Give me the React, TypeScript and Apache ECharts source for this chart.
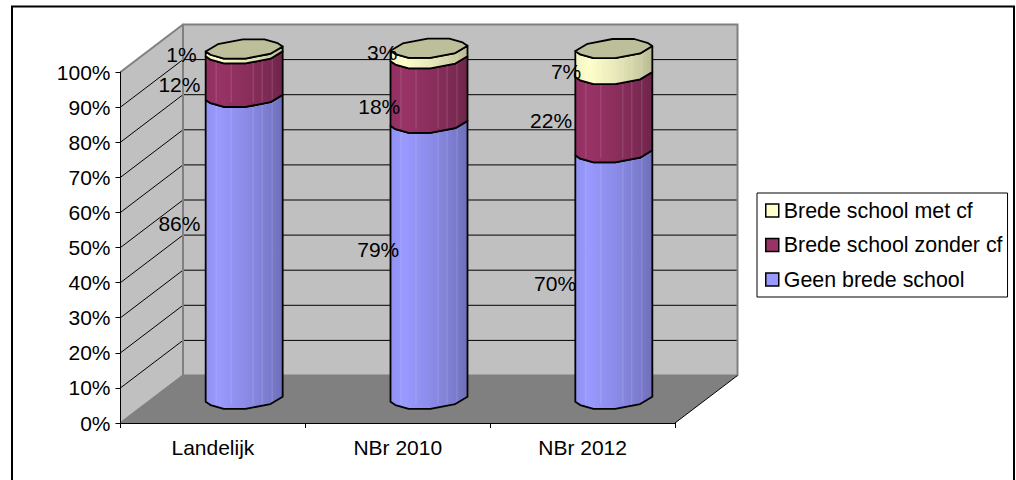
import React, { useEffect, useRef } from "react";
import * as echarts from "echarts";

const categories = ["Landelijk", "NBr 2010", "NBr 2012"];
const geen = [86.0, 78.6, 70.2];
const zonder = [12.4, 18.4, 22.3];
const met = [1.4, 3.0, 7.4];
const yTicks = [0, 10, 20, 30, 40, 50, 60, 70, 80, 90, 100];
const seriesNames = ["Geen brede school", "Brede school zonder cf", "Brede school met cf"];
const seriesValues = [geen, zonder, met];

// layout and style
const DEPTH_X = 62.5;
const DEPTH_Y = -47.5;
const FONT = "'Liberation Sans', Arial, sans-serif";
const FONT_SIZE = 21;
const COLORS = ["#9999FF", "#993366", "#FFFFCC"];
const CAP = "#BDBE9A";
const LOWER: number[][] = [[-38.5, 2.5], [-33.6, 5.8], [-20.3, 9.6], [1.3, 9.6], [26.3, 4.8], [38.5, -2.5]];
const UPPER: number[][] = [[38.5, -2.5], [33.6, -5.8], [20.3, -9.6], [-1.3, -9.6], [-26.3, -4.8], [-38.5, 2.5]];
const FACETS = [-28, -13, 9, 18, 28];
// label offsets from the segment's midpoint on the axis plane, per category then series
const LABEL_OFFSETS: number[][][] = [
  [[-33.5, -49], [-33.5, -14.4], [-31.5, -21]],
  [[-19.5, -36], [-18.5, -8], [-15.5, -25]],
  [[-27.5, -16], [-31.5, -16.5], [-16.5, -14]],
];

function shade(hex: string, k: number) {
  const n = parseInt(hex.slice(1), 16);
  const c = [(n >> 16) & 255, (n >> 8) & 255, n & 255].map((v) => Math.round(v * k));
  return `rgb(${c[0]},${c[1]},${c[2]})`;
}

function bodyFill(hex: string) {
  return new echarts.graphic.LinearGradient(0, 0, 1, 0, [
    { offset: 0, color: shade(hex, 0.95) },
    { offset: 0.18, color: shade(hex, 1) },
    { offset: 0.55, color: shade(hex, 0.9) },
    { offset: 0.85, color: shade(hex, 0.8) },
    { offset: 1, color: shade(hex, 0.72) },
  ]);
}

function centre(api: any, cat: number, v: number) {
  const p = api.coord([cat, v]);
  return [p[0] + DEPTH_X / 2, p[1] + DEPTH_Y / 2];
}

function renderWalls(params: any, api: any) {
  const cs = params.coordSys;
  const x0 = cs.x;
  const x1 = cs.x + cs.width;
  const yOf = (v: number) => api.coord([0, v])[1];
  const yB = yOf(0);
  const yT = yOf(100);
  const grey = { stroke: "#808080", lineWidth: 2, fill: "none" };
  const children: any[] = [
    { type: "polygon", shape: { points: [[x0 + DEPTH_X, yT + DEPTH_Y], [x1 + DEPTH_X, yT + DEPTH_Y], [x1 + DEPTH_X, yB + DEPTH_Y], [x0 + DEPTH_X, yB + DEPTH_Y]] }, style: { fill: "#C0C0C0" } },
    { type: "polygon", shape: { points: [[x0, yT], [x0 + DEPTH_X, yT + DEPTH_Y], [x0 + DEPTH_X, yB + DEPTH_Y], [x0, yB]] }, style: { fill: "#C0C0C0" } },
    { type: "polygon", shape: { points: [[x0, yB], [x1, yB], [x1 + DEPTH_X, yB + DEPTH_Y], [x0 + DEPTH_X, yB + DEPTH_Y]] }, style: { fill: "#808080" } },
  ];
  yTicks.forEach((v) => {
    const y = yOf(v);
    if (v > 0 && v < 100) {
      children.push({ type: "polyline", shape: { points: [[x0, y], [x0 + DEPTH_X, y + DEPTH_Y], [x1 + DEPTH_X, y + DEPTH_Y]] }, style: { stroke: "#000", lineWidth: 1, fill: "none" } });
    }
  });
  children.push(
    { type: "polyline", shape: { points: [[x0 + DEPTH_X, yB + DEPTH_Y], [x0 + DEPTH_X, yT + DEPTH_Y], [x1 + DEPTH_X, yT + DEPTH_Y], [x1 + DEPTH_X, yB + DEPTH_Y]] }, style: grey },
    { type: "polyline", shape: { points: [[x0, yT], [x0 + DEPTH_X, yT + DEPTH_Y]] }, style: grey },
    { type: "polyline", shape: { points: [[x0, yB], [x0 + DEPTH_X, yB + DEPTH_Y]] }, style: grey },
    { type: "polyline", shape: { points: [[x0 + DEPTH_X, yB + DEPTH_Y], [x1 + DEPTH_X, yB + DEPTH_Y]] }, style: grey },
    { type: "polyline", shape: { points: [[x1, yB], [x1 + DEPTH_X, yB + DEPTH_Y]] }, style: { stroke: "#000", lineWidth: 1, fill: "none" } }
  );
  return { type: "group", children };
}

function makeRenderSegment(si: number) {
  return (_params: any, api: any) => {
    const cat = api.value(0);
    const a = centre(api, cat, api.value(1));
    const b = centre(api, cat, api.value(2));
    const bottom = LOWER.map((o) => [a[0] + o[0], a[1] + o[1]]);
    const top = LOWER.map((o) => [b[0] + o[0], b[1] + o[1]]).reverse();
    const children: any[] = [
      { type: "polygon", shape: { points: bottom.concat(top) }, style: { fill: bodyFill(COLORS[si]) } },
    ];
    FACETS.forEach((dx) => {
      children.push({ type: "line", shape: { x1: a[0] + dx, y1: a[1] + 5, x2: b[0] + dx, y2: b[1] + 5 }, style: { stroke: "rgba(255,255,255,0.16)", lineWidth: 1 } });
    });
    children.push({ type: "polygon", shape: { points: bottom.concat(top) }, style: { fill: "none", stroke: "#000", lineWidth: 1.8, lineJoin: "round" } });
    if (si === COLORS.length - 1) {
      const rim = LOWER.concat(UPPER.slice(1, -1)).map((o) => [b[0] + o[0], b[1] + o[1]]);
      children.push({ type: "polygon", shape: { points: rim }, style: { fill: CAP, stroke: "#000", lineWidth: 1.8, lineJoin: "round" } });
    }
    return { type: "group", children };
  };
}

function renderLabel(_params: any, api: any) {
  const cat = api.value(0);
  const start = api.value(1);
  const end = api.value(2);
  const si = api.value(3);
  const p = api.coord([cat, (start + end) / 2]);
  const off = LABEL_OFFSETS[cat][si];
  return {
    type: "text",
    x: p[0] + off[0],
    y: p[1] + off[1],
    style: { text: Math.round(end - start) + "%", font: `${FONT_SIZE}px ${FONT}`, fill: "#000", align: "center", verticalAlign: "middle" },
  };
}

export default function App() {
  const ref = useRef<HTMLDivElement>(null);
  useEffect(() => {
    const chart = echarts.init(ref.current!, undefined, { renderer: "svg" });
    const rows = seriesValues.map((vals, si) =>
      vals.map((v, cat) => {
        let s = 0;
        for (let i = 0; i < si; i++) s += seriesValues[i][cat];
        return [cat, s, s + v, si];
      })
    );
    chart.setOption({
      animation: false,
      backgroundColor: "#fff",
      graphic: [
        { type: "polyline", silent: true, shape: { points: [[12, 480], [12, 6.5], [1014, 6.5], [1014, 480]] }, style: { stroke: "#000", lineWidth: 2, fill: "none" } },
      ],
      grid: { left: 120.5, top: 72, width: 554.5, height: 351 },
      xAxis: {
        type: "category",
        data: categories,
        z: 10,
        axisLine: { lineStyle: { color: "#000", width: 1 } },
        axisTick: { show: true, length: 5, lineStyle: { color: "#000" } },
        axisLabel: { color: "#000", fontFamily: FONT, fontSize: FONT_SIZE, margin: 14 },
      },
      yAxis: {
        type: "value",
        min: 0,
        max: 100,
        interval: 10,
        z: 10,
        splitLine: { show: false },
        axisLine: { show: true, lineStyle: { color: "#000", width: 1 } },
        axisTick: { show: true, length: 5, lineStyle: { color: "#000" } },
        axisLabel: { color: "#000", fontFamily: FONT, fontSize: FONT_SIZE, margin: 10, formatter: "{value}%" },
      },
      legend: {
        orient: "vertical",
        left: 757,
        top: 193,
        padding: [7, 5, 7, 8],
        itemWidth: 13,
        itemHeight: 13,
        itemGap: 13.5,
        backgroundColor: "#fff",
        borderColor: "#000",
        borderWidth: 1,
        textStyle: { color: "#000", fontFamily: FONT, fontSize: 21.4 },
        data: [2, 1, 0].map((i) => ({
          name: seriesNames[i],
          icon: "rect",
          itemStyle: { color: COLORS[i], borderColor: "#000", borderWidth: 1.5 },
        })),
      },
      series: [
        { type: "custom", name: "walls", z: 1, silent: true, clip: false, data: [[0, 0]], renderItem: renderWalls },
        ...seriesNames.map((name, si) => ({
          type: "custom",
          name,
          z: 3 + si,
          silent: true,
          clip: false,
          itemStyle: { color: COLORS[si] },
          encode: { x: 0, y: 2 },
          data: rows[si],
          renderItem: makeRenderSegment(si),
        })),
        { type: "custom", name: "labels", z: 20, silent: true, clip: false, encode: { x: 0, y: 2 }, data: rows.flat(), renderItem: renderLabel },
      ],
    });
    return () => chart.dispose();
  }, []);
  return <div ref={ref} style={{ position: "fixed", left: 0, top: 0, width: 1016, height: 480 }} />;
}
